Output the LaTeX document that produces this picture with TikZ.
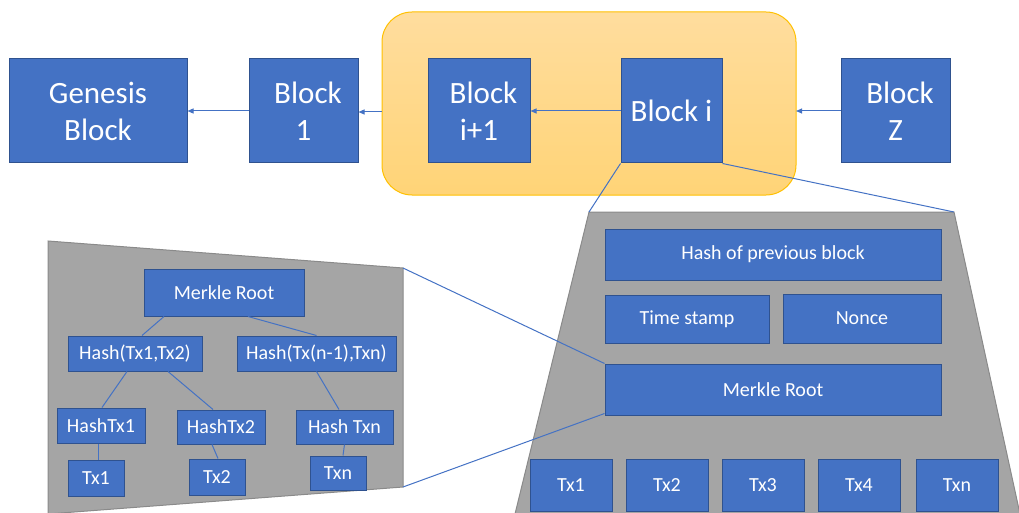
\documentclass[tikz,border=0pt]{standalone}
\usepackage{fontspec}
\setmainfont{Carlito}
\usetikzlibrary{arrows.meta,calc}

\definecolor{blkfill}{HTML}{4472C4}
\definecolor{blkedge}{HTML}{2F528F}
\definecolor{panelfill}{HTML}{A5A5A5}
\definecolor{paneledge}{HTML}{8A8A8A}
\definecolor{ytop}{HTML}{FFDD9E}
\definecolor{ybot}{HTML}{FFD477}
\definecolor{yedge}{HTML}{FFC000}

\newcommand{\padl}{\hspace*{9pt}}

\tikzset{
  blk/.style={draw=blkedge, line width=1pt, fill=blkfill, text=white,
    inner sep=0pt, align=center},
  bigblk/.style={blk, font=\fontsize{31}{37}\selectfont},
  smallblk/.style={blk, font=\fontsize{20}{24}\selectfont},
  wire/.style={draw=blkfill, line width=1pt},
  chain/.style={wire, -{Triangle[length=6pt,width=5pt]}},
  panelline/.style={draw=paneledge, line width=1pt}
}

\begin{document}
\begin{tikzpicture}[x=1pt,y=-1pt]
\useasboundingbox (0,0) rectangle (1019,513);

% highlighted section of the chain
\path[draw=yedge, line width=1pt, top color=ytop, bottom color=ybot,
  rounded corners=30pt] (382,12) rectangle (796,195);
\coordinate (hlW) at (382,112);
\coordinate (hlE) at (796,111);

% chain of blocks
\node[bigblk, minimum width=178pt, minimum height=104pt] (gen) at (98,111) {Genesis\\Block};
\node[bigblk, minimum width=109pt, minimum height=104pt] (b1) at (303.5,111) {\padl Block\\1};
\node[bigblk, minimum width=102pt, minimum height=104pt] (bi1) at (479,111) {\padl Block\\i+1};
\node[bigblk, minimum width=101pt, minimum height=104pt] (bi) at (671.5,111) {Block i};
\node[bigblk, minimum width=109pt, minimum height=104pt] (bz) at (895.5,111) {\padl Block\\Z};

\draw[chain] (b1.west) -- (gen.east);
\draw[chain] (hlW) -- (b1.east |- hlW);
\draw[chain] (bi.west) -- (bi1.east);
\draw[chain] (bz.west |- hlE) -- (hlE);

% block detail panel
\coordinate (rTL) at (589,212);
\coordinate (rTR) at (954,212);
\coordinate (rBR) at (1020,514);
\coordinate (rBL) at (515,514);
\fill[panelfill] (rBL) -- (rTL) -- (rTR) -- (rBR) -- cycle;
\draw[panelline] (rBL) -- (rTL) -- (rTR) -- (rBR);

\draw[wire] (bi.south west) -- (rTL);
\draw[wire] (bi.south east) -- (rTR);

\node[smallblk, minimum width=336pt, minimum height=51pt] (hp) at (773,254.5) {Hash of previous block};
\node[smallblk, minimum width=164pt, minimum height=48pt] (ts) at (687,319) {Time stamp};
\node[smallblk, minimum width=158pt, minimum height=49pt] (nc) at (862,318.5) {Nonce};
\node[smallblk, minimum width=336pt, minimum height=51pt] (mrR) at (773,389.5) {Merkle Root};
\foreach \n/\x/\t in {t1/571/Tx1, t2/667/Tx2, t3/763/Tx3, t4/859/Tx4, tn/957/Txn}
  \node[smallblk, minimum width=82pt, minimum height=52pt] (r\n) at (\x,485) {\t};

% merkle tree panel
\coordinate (lTL) at (48,241);
\coordinate (lTR) at (403,268);
\coordinate (lBR) at (403,487);
\coordinate (lBL) at (48,514);
\fill[panelfill] (lBL) -- (lTL) -- (lTR) -- (lBR) -- cycle;
\draw[panelline] (lBL) -- (lTL) -- (lTR) -- (lBR) -- cycle;

\draw[wire] (lTR) -- (mrR.north west);
\draw[wire] (lBR) -- ([yshift=2pt]mrR.south west);

\node[smallblk, minimum width=160pt, minimum height=47pt] (mr) at (224,292.5) {Merkle Root};
\node[smallblk, minimum width=134pt, minimum height=35pt] (h12) at (135,353.5) {Hash(Tx1,Tx2)};
\node[smallblk, minimum width=159pt, minimum height=35pt] (hn) at (316.5,353.5) {Hash(Tx(n-1),Txn)};
\node[smallblk, minimum width=88pt, minimum height=35pt] (ht1) at (101,425.5) {HashTx1};
\node[smallblk, minimum width=88pt, minimum height=34pt] (ht2) at (221,427) {HashTx2};
\node[smallblk, minimum width=97pt, minimum height=34pt] (htn) at (344.5,427) {Hash Txn};
\node[smallblk, minimum width=56pt, minimum height=36pt] (lt1) at (96,478) {Tx1};
\node[smallblk, minimum width=56pt, minimum height=36pt] (lt2) at (217,477) {Tx2};
\node[smallblk, minimum width=56pt, minimum height=34pt] (ltn) at (338,473) {Txn};

\draw[wire] ([xshift=-60pt]mr.south) -- ([xshift=7pt]h12.north);
\draw[wire] ([xshift=24pt]mr.south) -- (hn.north);
\draw[wire] ([xshift=-8pt]h12.south) -- ([xshift=1pt]ht1.north);
\draw[wire] ([xshift=33pt]h12.south) -- ([xshift=-8pt]ht2.north);
\draw[wire] (hn.south) -- ([xshift=-5.5pt]htn.north);
\draw[wire] ([xshift=-3pt]ht1.south) -- ([xshift=2pt]lt1.north);
\draw[wire] ([xshift=-9pt]ht2.south) -- ([xshift=1pt]lt2.north);
\draw[wire] (htn.south) -- ([xshift=5pt]ltn.north);
\end{tikzpicture}
\end{document}
